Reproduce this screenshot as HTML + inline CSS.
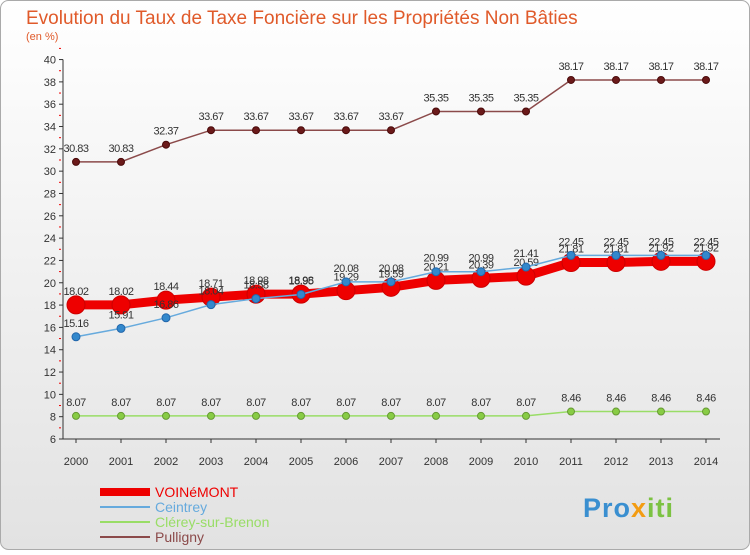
<!DOCTYPE html>
<html><head><meta charset="utf-8"><style>
body{margin:0;background:#fff;font-family:"Liberation Sans",sans-serif}
#wrap{position:relative;width:750px;height:550px}
</style></head><body>
<div id="wrap">
<svg id="chart" width="750" height="550" xmlns="http://www.w3.org/2000/svg">
<defs>
<linearGradient id="bg" x1="0" y1="0" x2="0" y2="1"><stop offset="0" stop-color="#ffffff"/><stop offset="1" stop-color="#e2e2e2"/></linearGradient>
</defs>
<rect x="0.5" y="0.5" width="749" height="549" rx="8" fill="url(#bg)" stroke="#aaa"/>
<text x="26" y="24" font-size="19" fill="#e05a2a">Evolution du Taux de Taxe Foncière sur les Propriétés Non Bâties</text>
<text x="26" y="40" font-size="11" fill="#e05a2a">(en %)</text>
<g id="axes"></g>
<g id="series"></g>
<g id="legend"></g>
<g>
<text x="583" y="517" font-size="27" font-weight="bold" fill="#3a8fd0" letter-spacing="1">Pro<tspan fill="#f39c12">x</tspan><tspan fill="#7cc242">iti</tspan></text>
</g>
</svg>
</div>
<script>
const years=[2000,2001,2002,2003,2004,2005,2006,2007,2008,2009,2010,2011,2012,2013,2014];
const yTicks=[6,8,10,12,14,16,18,20,22,24,26,28,30,32,34,36,38,40];
const voinemont=[18.02,18.02,18.44,18.71,18.98,18.98,19.29,19.59,20.21,20.39,20.59,21.81,21.81,21.92,21.92];
const ceintrey=[15.16,15.91,16.86,18.04,18.58,18.95,20.08,20.08,20.99,20.99,21.41,22.45,22.45,22.45,22.45];
const clerey=[8.07,8.07,8.07,8.07,8.07,8.07,8.07,8.07,8.07,8.07,8.07,8.46,8.46,8.46,8.46];
const pulligny=[30.83,30.83,32.37,33.67,33.67,33.67,33.67,33.67,35.35,35.35,35.35,38.17,38.17,38.17,38.17];
const NS="http://www.w3.org/2000/svg";
const x=i=>76+i*45;
const y=v=>439-(v-6)*11.16;
function mk(t,a,p){const e=document.createElementNS(NS,t);for(const k in a)e.setAttribute(k,a[k]);p.appendChild(e);return e;}
const ax=document.getElementById('axes');
const yl=mk('line',{x1:63,y1:y(40),x2:63,y2:y(6),stroke:'#333'},ax);


const xl=mk('line',{x1:63,y1:y(6),x2:720,y2:y(6),stroke:'#333'},ax);


yTicks.forEach(v=>{
 mk('line',{x1:59,y1:y(v),x2:63,y2:y(v),stroke:'#333'},ax);
 mk('line',{x1:59,y1:y(v+1),x2:61,y2:y(v+1),stroke:'#e00'},ax);
 const t=mk('text',{x:56,y:y(v)+4,'font-size':11,'text-anchor':'end',fill:'#333'},ax);
 t.textContent=v;
 
 
});
years.forEach((yr,i)=>{
 mk('line',{x1:x(i),y1:y(6),x2:x(i),y2:y(6)+4,stroke:'#333'},ax);
 const t=mk('text',{x:x(i),y:465,'font-size':11,'text-anchor':'middle',fill:'#333'},ax);
 t.textContent=yr;
 
 
});
const sg=document.getElementById('series');
function series(name,vals,color,w,r,dot,stroke){
 const g=mk('g',{},sg);
 
 
 mk('polyline',{points:vals.map((v,i)=>x(i)+','+y(v)).join(' '),fill:'none',stroke:color,'stroke-width':w},g);
 vals.forEach((v,i)=>{
  const c=mk('circle',{cx:x(i),cy:y(v),r:r,fill:dot,stroke:stroke,'stroke-width':1},g);
  
  
  const t=mk('text',{x:x(i),y:y(v)-10,'font-size':11,'text-anchor':'middle',fill:'#333','letter-spacing':'-0.5'},g);
  t.textContent=v.toFixed(2).replace(/0$/,'');
  t.textContent=String(v);
  
  
 });
}
series('clerey',clerey,'#99dd66',1.5,3.5,'#88cc44','#669933');
series('pulligny',pulligny,'#8b4a4a',1.5,3.5,'#6b1a1a','#4a0a0a');
series('voinemont',voinemont,'#ee0000',9,9,'#ee0000','#cc0000');
series('ceintrey',ceintrey,'#66aadd',1.5,4,'#3388cc','#2266aa');
const lg=document.getElementById('legend');
const items=[['VOINéMONT','#ee0000',8],['Ceintrey','#66aadd',2],['Clérey-sur-Brenon','#99dd66',2],['Pulligny','#8b4a4a',2]];
items.forEach((it,i)=>{
 const yy=492+i*15;
 const g=mk('g',{},lg);
 
 
 mk('line',{x1:100,y1:yy,x2:150,y2:yy,stroke:it[1],'stroke-width':it[2]},g);
 const t=mk('text',{x:155,y:yy+5,'font-size':14,fill:it[1]},g);
 t.textContent=it[0];
});
</script>
</body></html>
